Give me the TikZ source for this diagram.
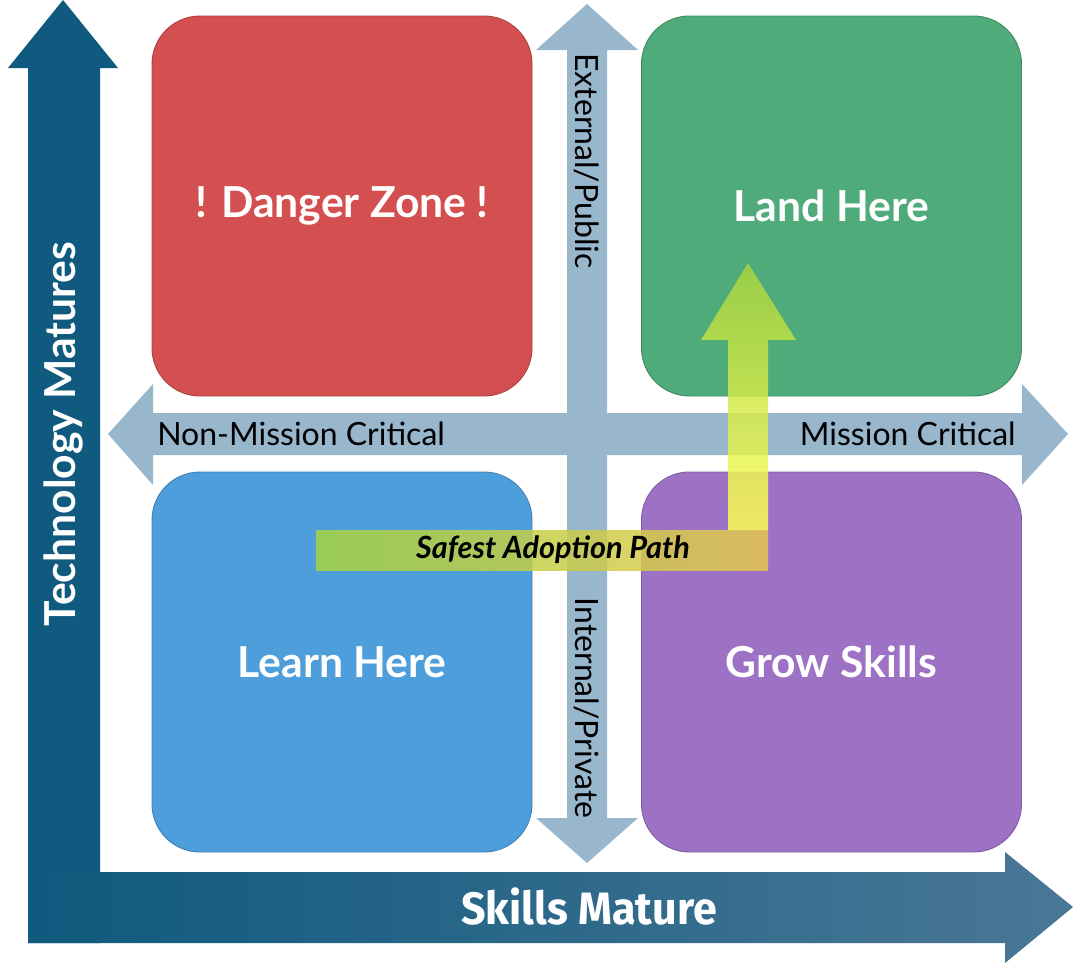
\documentclass[tikz,border=0pt]{standalone}
\usepackage{fontspec}
\setmainfont{Lato}
\newfontfamily\axisfont[FakeStretch=0.95]{Fira Sans}
\definecolor{axisblue}  {HTML}{0F5A7E}
\definecolor{axisend}   {HTML}{4A7796}
\definecolor{crossblue} {HTML}{98B6CC}
\definecolor{dangerred} {HTML}{D45050}
\definecolor{landgreen} {HTML}{4FAB7A}
\definecolor{learnblue} {HTML}{4F9EDC}
\definecolor{growpurple}{HTML}{9D72C4}
\definecolor{pathgreen} {HTML}{A6D440}
\definecolor{pathyellow}{HTML}{FFFF55}
\definecolor{pathgold}  {HTML}{E6C850}
\newcommand{\qsize}     {285pt}

\begin{document}
\begin{tikzpicture}[x=0.75pt,y=-0.75pt,
    quad/.style={rectangle, rounded corners=36pt, minimum width=\qsize, minimum height=\qsize,
                 fill=#1, draw=#1!82!black, line width=0.7pt, text=white,
                 font=\fontsize{32}{38}\selectfont\bfseries},
    crosslabel/.style={text=black, inner sep=0pt, font=\fontsize{24}{28}\selectfont},
    axislabel/.style={text=white, inner sep=0pt, font=\fontsize{32}{38}\selectfont\bfseries}]
    \useasboundingbox (0,0) rectangle (1080,968);
    % maturity axes
    \fill[axisblue] (28,943) -- (28,68) -- (8,68) -- (63,0) -- (118,68) -- (100,68) -- (100,943) -- cycle;
    \shade[left color=axisblue, right color=axisend]
        (28,872) -- (1005,872) -- (1005,852) -- (1073,907) -- (1005,963) -- (1005,943) -- (28,943) -- cycle;
    \node[axislabel, rotate=90] (tech) at (63,434) {Technology Matures};
    \node[axislabel, font=\axisfont\fontsize{34}{40}\selectfont\bfseries] (skills) at (589,906) {Skills Mature};
    % cross arrows
    \fill[crossblue] (567,50) -- (536,50) -- (587,4) -- (638,50) -- (607,50) -- (607,818)
        -- (638,818) -- (587,863) -- (536,818) -- (567,818) -- cycle;
    \fill[crossblue] (153,413) -- (153,384) -- (108,434) -- (153,485) -- (153,455) -- (1022,455)
        -- (1022,485) -- (1068,434) -- (1022,384) -- (1022,413) -- cycle;
    \node[crosslabel, rotate=-90] (public)  at (587,161) {External/Public};
    \node[crosslabel, rotate=-90] (private) at (587,708) {Internal/Private};
    \node[crosslabel, anchor=west] (noncrit) at (157,434) {Non-Mission Critical};
    \node[crosslabel, anchor=east] (crit)    at (1016,434) {Mission Critical};
    % quadrants
    \node[quad=dangerred]  (danger) at (342,206)   {! Danger Zone !};
    \node[quad=landgreen]  (land)   at (831.5,206) {Land Here};
    \node[quad=learnblue]  (learn)  at (342,662)   {Learn Here};
    \node[quad=growpurple] (grow)   at (831.5,662) {Grow Skills};
    % adoption path
    \shade[left color=pathgreen, middle color=pathyellow, right color=pathgold, opacity=0.85]
        (316,530) rectangle (768,570);
    \shade[bottom color=pathyellow, middle color=pathyellow, top color=pathgreen, opacity=0.85]
        (728,530) -- (728,340) -- (701,340) -- (748,263) -- (796,340) -- (768,340) -- (768,530) -- cycle;
    \node[text=black, font=\fontsize{23}{27}\selectfont\bfseries\itshape] (path) at (553,550) {Safest Adoption Path};
\end{tikzpicture}
\end{document}
